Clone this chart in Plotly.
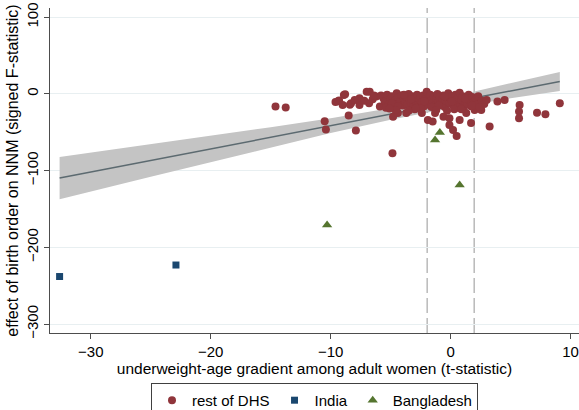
import plotly.graph_objects as go

# rest of DHS: (t-statistic of underweight-age gradient, signed F-statistic of birth order on NNM)
dhs_x = [
    -14.6, -13.75, -10.5, -10.4, -9.4, -8.9, -8.4, -7.0,
    -9.3, -8.8, -9.0, -8.3, -7.6, -7.6, -8.5, -7.9, -6.75, -6.8, -6.2, -5.9, -5.6,
    -8.0, -7.2, -6.5, -9.6,
    -5.8, -5.5, -5.3, -5.2, -5.0, -4.9, -4.8, -4.7, -4.6, -4.5, -4.4, -4.3, -4.2,
    -4.1, -4.0, -3.9, -3.8, -3.7, -3.6, -3.5, -3.4, -3.3, -3.2, -3.1, -3.0, -2.9,
    -2.8, -2.7, -2.6, -2.5, -2.4, -2.4, -2.3, -2.2, -2.1, -2.0, -2.0, -1.9, -1.9,
    -1.8, -1.7, -1.6, -1.5, -1.5, -1.4, -1.3, -1.3, -1.2, -1.1, -1.0, -0.9, -0.8,
    -0.7, -0.6, -0.6, -0.5, -0.4, -0.3, -0.2, -0.1, -0.1, -0.1, 0.0, 0.1, 0.2,
    0.2, 0.3, 0.4, 0.5, 0.5, 0.6, 0.75, 0.75, 0.8, 0.9, 1.0, 1.1, 1.2, 1.3, 1.3,
    1.4, 1.5, 1.6, 1.7, 1.7, 1.8, 1.9, 2.0, 2.1, 2.2, 2.3, 2.55, 2.6, 2.8, 3.0,
    3.25, 3.9, 4.5, 5.75, 5.7, 5.7, 7.2, 7.9, 9.1,
    -4.9, -4.4, -3.9, -3.3, -2.8, -2.2, -1.6, -1.0, -0.5, 0.1, 0.6, 1.2, 1.8,
    -4.8, -4.4, -3.7, -4.85, -2.5, -3.0, 0.3,
    -5.4, -4.6, -3.5, -2.9, -1.2, -0.3, 0.9, 2.4, -6.4, -5.1,
]
dhs_y = [
    -16.5, -17.8, -35.6, -46.5, -9.5, -1.3, -14.0, 3.0,
    -8.7, -0.5, -14.3, -12.0, -5.7, -14.3, -28.0, -47.8, 3.0, -12.0, -3.5, -16.5, -5.7,
    -8.0, -9.0, -7.0, -10.5,
    -2.0, -10.0, -1.0, -14.0, -6.0, -3.0, -11.0, -17.0, -8.0, 1.0, -5.0, -13.0, -9.0,
    -2.0, -15.0, -6.0, -10.0, -4.0, -14.3, 0.0, -8.0, -12.0, -3.0, -17.0, -6.0, -10.0,
    -1.0, -13.0, -7.0, -4.0, -25.0, -11.0, -2.0, -16.0, -6.0, 3.0, -9.0, -34.0, -13.0,
    -4.0, -1.0, -8.0, -36.0, -11.0, -3.0, -25.0, -15.0, -6.0, 0.0, -10.0, -4.0, -13.0,
    -7.0, -29.6, -2.0, -17.0, -9.0, -5.0, 1.0, -31.7, -40.4, -12.0, -6.0, -3.0, -47.0,
    -15.0, -9.0, -1.0, -54.8, -11.0, -5.0, -34.0, 1.7, -14.0, -8.0, -3.0, -18.0, -10.0, -25.0, -5.0,
    -13.0, -1.0, -8.0, -38.0, -16.0, -4.0, -11.0, -21.0, -7.0, -14.0, -3.0, -21.0, -9.0, -13.0, -7.8,
    -42.6, -10.0, -7.8, -14.3, -23.0, -31.7, -24.4, -26.5, -12.0,
    -12.0, -16.0, -1.0, -7.0, -18.0, -9.5, -17.0, -15.0, -3.0, -10.0, -18.0, -6.0, -15.0,
    -29.6, -25.0, -25.0, -77.3, -19.0, -20.0, -20.0,
    -18.0, -21.0, -22.0, -19.0, -21.0, -22.0, -20.0, -17.0, -2.0, -19.0,
]

india_x = [-32.6, -22.9]
india_y = [-238.0, -223.0]

bangladesh_x = [-10.3, 0.75, -1.3, -0.9]
bangladesh_y = [-170.8, -118.6, -60.0, -50.4]

# Linear fit with 95% confidence band
fit_x = [-32.6, -25.0, -20.0, -15.0, -10.0, -5.0, -2.5, 0.0, 5.0, 9.1]
fit_y = [-109.7, -86.7, -71.6, -56.5, -41.4, -26.3, -18.8, -11.2, 3.9, 16.3]
ci_lo = [-137.2, -107.8, -88.6, -69.6, -51.0, -33.6, -25.8, -18.5, -5.7, 3.9]
ci_hi = [-82.2, -65.6, -54.6, -43.4, -31.8, -19.0, -11.8, -3.9, 13.5, 28.7]

# Critical values for the t-statistic
crit_lines = [-1.96, 1.96]

x_ticks = [-30, -20, -10, 0, 10]
y_ticks = [-300, -200, -100, 0, 100]

MAROON = "#90353b"
NAVY = "#1a476f"
GREEN = "#55752f"
FONT = "Liberation Sans, Arial, sans-serif"

fig = go.Figure()

fig.add_trace(go.Scatter(
    x=fit_x + fit_x[::-1], y=ci_hi + ci_lo[::-1],
    fill="toself", fillcolor="#c4c4c4", line=dict(width=0),
    mode="lines", showlegend=False, hoverinfo="skip",
))
fig.add_trace(go.Scatter(
    x=fit_x, y=fit_y, mode="lines",
    line=dict(color="#5c6a70", width=1.5), showlegend=False,
))
fig.add_trace(go.Scatter(
    x=dhs_x, y=dhs_y, mode="markers", name="rest of DHS",
    marker=dict(symbol="circle", size=8, color=MAROON),
))
fig.add_trace(go.Scatter(
    x=india_x, y=india_y, mode="markers", name="India",
    marker=dict(symbol="square", size=7, color=NAVY),
))
fig.add_trace(go.Scatter(
    x=bangladesh_x, y=bangladesh_y, mode="markers", name="Bangladesh",
    marker=dict(symbol="triangle-up", size=9, color=GREEN),
))

for cx in crit_lines:
    fig.add_shape(
        type="line", xref="x", yref="paper", x0=cx, x1=cx, y0=0, y1=1,
        line=dict(color="#a8a8a8", width=1.2, dash="15px,5px"), layer="below",
    )

fig.update_layout(
    width=579, height=410,
    margin=dict(l=50, r=0, t=8, b=77),
    paper_bgcolor="white", plot_bgcolor="white",
    font=dict(family=FONT, size=15, color="#000000"),
    legend=dict(
        orientation="h", xref="paper", x=0.5, xanchor="center",
        yref="container", y=0.066, yanchor="top",
        bordercolor="#404040", borderwidth=1, font=dict(size=15),
        itemwidth=30, tracegroupgap=0,
    ),
    xaxis=dict(
        range=[-33.4, 10.7], tickvals=x_ticks, ticks="outside", ticklen=5,
        tickcolor="#4d4d4d", showline=True, linecolor="#4d4d4d", linewidth=1.2,
        showgrid=False, zeroline=False,
        title=dict(text="underweight-age gradient among adult women (t-statistic)",
                   standoff=1, font=dict(size=15.5)),
        tickfont=dict(size=15),
    ),
    yaxis=dict(
        range=[-311.6, 112], tickvals=y_ticks, ticks="outside", ticklen=5,
        tickcolor="#4d4d4d", showline=True, linecolor="#4d4d4d", linewidth=1.2,
        showgrid=True, gridcolor="#e8eff1", gridwidth=1, zeroline=False,
        tickangle=-90,
        title=dict(text="effect of birth order on NNM (signed F-statistic)",
                   standoff=1, font=dict(size=16)),
        tickfont=dict(size=15),
    ),
)

fig.write_html("out.html")
